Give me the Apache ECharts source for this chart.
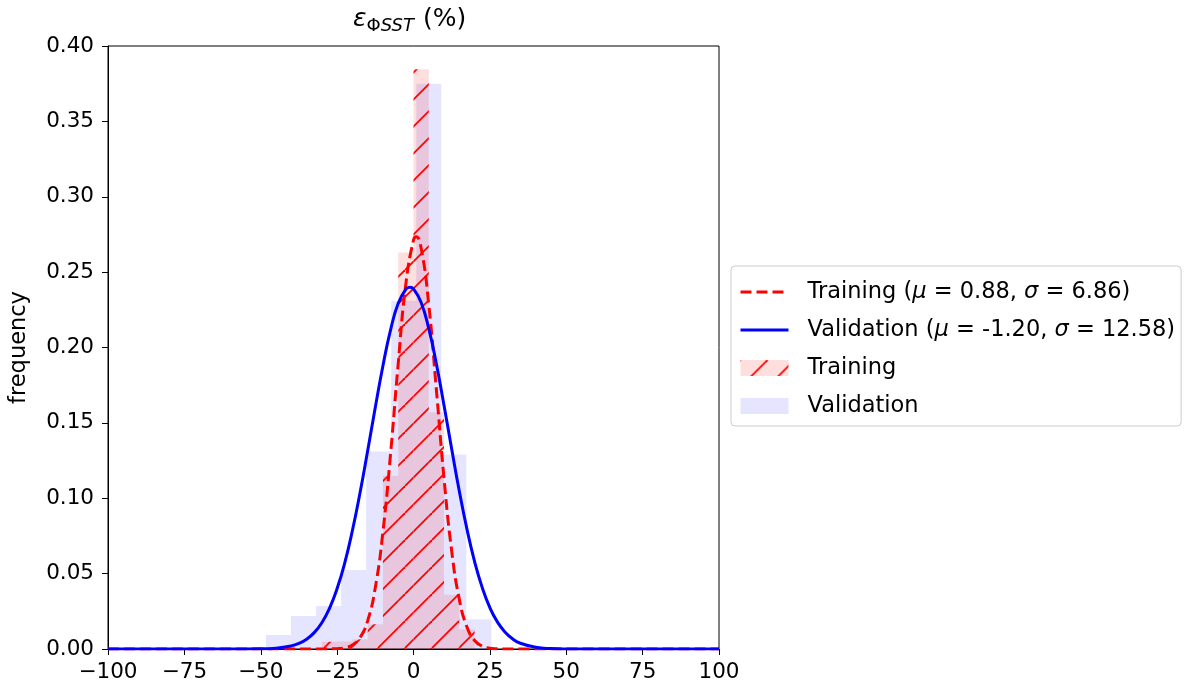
<!DOCTYPE html>
<html><head><meta charset="utf-8">
<script src="https://cdn.jsdelivr.net/npm/echarts@6/dist/echarts.min.js"></script>
<style>html,body{margin:0;padding:0;background:#fff}#c{width:1188px;height:696px}</style>
</head><body><div id="c"></div>
<script>
// ---- data ----
const trainEdges = [-30, -25, -20, -15, -10, -5, 0, 5, 10, 15, 20];
const trainFreq  = [0.0048, 0.005, 0.0064, 0.0164, 0.115, 0.263, 0.3845, 0.157, 0.036, 0.013];
const valEdges   = [-48.3, -40.1, -31.9, -23.7, -15.5, -7.3, 0.9, 9.1, 17.3, 25.5];
const valFreq    = [0.0093, 0.0219, 0.0285, 0.0524, 0.131, 0.231, 0.375, 0.129, 0.0197];

const trainFitX = [-100, -50, -40, -35, -30, -25, -22.5, -20, -17.5, -15, -12.5, -10, -7.5, -5, -2.5, 0, 0.88, 2.5, 5, 7.5, 10, 12.5, 15, 17.5, 20, 22.5, 25, 30, 35, 40, 50, 100];
const trainFitY = [0, 0, 0, 0, 0.00001, 0.00022, 0.00082, 0.00266, 0.00756, 0.01877, 0.0408, 0.0778, 0.1297, 0.1894, 0.2422, 0.2713, 0.2735, 0.2660, 0.2284, 0.1717, 0.1130, 0.0651, 0.0329, 0.01453, 0.00563, 0.0019, 0.00057, 0.00003, 0, 0, 0, 0];

const valFitX = [-100, -70, -60, -50, -45, -40, -37.5, -35, -32.5, -30, -27.5, -25, -22.5, -20, -17.5, -15, -12.5, -10, -7.5, -5, -2.5, -1.2, 0, 2.5, 5, 7.5, 10, 12.5, 15, 17.5, 20, 22.5, 25, 27.5, 30, 32.5, 35, 40, 45, 50, 60, 70, 100];
const valFitY = [0, 0, 0.000004, 0.00013, 0.00056, 0.00206, 0.00373, 0.0065, 0.01087, 0.01745, 0.0270, 0.0401, 0.0572, 0.0786, 0.1037, 0.1315, 0.1603, 0.1879, 0.2117, 0.2293, 0.2387, 0.2400, 0.2389, 0.2299, 0.2125, 0.1890, 0.1615, 0.1327, 0.1047, 0.0795, 0.0580, 0.0407, 0.0274, 0.0178, 0.0111, 0.00664, 0.0038, 0.00113, 0.00028, 0.00006, 0, 0, 0];

const trainFitName = 'Training (μ = 0.88, σ = 6.86)';
const valFitName   = 'Validation (μ = -1.20, σ = 12.58)';
const trainHistName = 'Training';
const valHistName   = 'Validation';

const xMin = -100, xMax = 100, xStep = 25;
const yMin = 0, yMax = 0.4, yStep = 0.05;

// ---- build ----
function histData(edges, freq) {
  const out = [];
  for (let i = 0; i < freq.length; i++) out.push([edges[i], edges[i + 1], freq[i]]);
  return out;
}
function zip(xs, ys) { return xs.map((x, i) => [x, ys[i]]); }

// hatch pattern "/" (red lines on light red fill)
const T = 27;
const cv = document.createElement('canvas');
cv.width = T; cv.height = T;
const g = cv.getContext('2d');
g.fillStyle = 'rgba(255,0,0,0.13)';
g.fillRect(0, 0, T, T);
g.strokeStyle = '#ff0000';
g.lineWidth = 1.8;
for (const o of [-T, 0, T]) {
  g.beginPath(); g.moveTo(o, T); g.lineTo(o + T, 0); g.stroke();
}
const hatch = { image: cv, repeat: 'repeat' };
const valFill = 'rgba(0,0,255,0.1)';

function makeRender(fill) {
  return function (params, api) {
    const p0 = api.coord([api.value(0), api.value(2)]);
    const p1 = api.coord([api.value(1), 0]);
    return {
      type: 'rect',
      shape: { x: p0[0], y: p0[1], width: p1[0] - p0[0], height: p1[1] - p0[1] },
      style: { fill: fill, stroke: null }
    };
  };
}

const FONT = 'DejaVu Sans';
const TICK = 21.5, TXT = 22.5;
const chart = echarts.init(document.getElementById('c'), null, { renderer: 'canvas' });
chart.setOption({
  animation: false,
  backgroundColor: '#ffffff',
  title: {
    text: '{e|ε}{p|Φ}{s|SST} {n|(%)}',
    left: 353, top: 3, padding: 0,
    textStyle: {
      fontWeight: 'normal',
      rich: {
        e: { fontFamily: FONT, fontSize: 25, fontStyle: 'italic', fontWeight: 'normal', lineHeight: 32, color: '#000' },
        p: { fontFamily: FONT, fontSize: 18, fontWeight: 'normal', lineHeight: 16, verticalAlign: 'bottom', color: '#000' },
        s: { fontFamily: FONT, fontSize: 18, fontStyle: 'italic', fontWeight: 'normal', lineHeight: 16, verticalAlign: 'bottom', color: '#000' },
        n: { fontFamily: FONT, fontSize: 25, fontWeight: 'normal', lineHeight: 32, color: '#000', padding: [0, 0, 0, 4] }
      }
    }
  },
  grid: {
    left: 108, right: 469, top: 46, bottom: 47, containLabel: false, outerBoundsMode: 'none',
    show: true, borderColor: '#000', borderWidth: 1, backgroundColor: 'transparent'
  },
  legend: {
    orient: 'vertical', left: 731, top: 266,
    selectedMode: false,
    backgroundColor: '#fff', borderColor: '#cccccc', borderWidth: 1, borderRadius: 4,
    padding: [14, 6, 8, 8],
    itemWidth: 48, itemHeight: 16, itemGap: 14,
    data: [
      { name: trainFitName, itemStyle: { opacity: 0, color: 'transparent', borderWidth: 0 },
        lineStyle: { color: '#ff0000', width: 3, type: [11, 5] } },
      { name: valFitName, itemStyle: { opacity: 0, color: 'transparent', borderWidth: 0 },
        lineStyle: { color: '#0000ff', width: 3, type: 'solid' } },
      { name: trainHistName, icon: 'rect' },
      { name: valHistName, icon: 'rect' }
    ],
    formatter: function (n) { return n.replace(/μ/g, '{i|μ}').replace(/σ/g, '{i|σ}'); },
    textStyle: {
      fontFamily: FONT, fontSize: TXT, color: '#000', lineHeight: 24, padding: [0, 0, 0, 14],
      rich: { i: { fontFamily: FONT, fontSize: TXT, fontStyle: 'italic', color: '#000', lineHeight: 24 } }
    }
  },
  xAxis: {
    type: 'value', min: xMin, max: xMax, interval: xStep,
    axisLine: { show: true, onZero: false, lineStyle: { color: '#000', width: 1 } },
    axisTick: { show: true, inside: false, length: 6, lineStyle: { color: '#000', width: 1 } },
    splitLine: { show: false },
    axisLabel: { fontFamily: FONT, fontSize: TICK, color: '#000', margin: 12,
      formatter: function (v) { return v < 0 ? '\u2212' + (-v) : String(v); } }
  },
  yAxis: {
    type: 'value', min: yMin, max: yMax, interval: yStep,
    name: 'frequency', nameLocation: 'middle', nameGap: 77,
    nameTextStyle: { fontFamily: FONT, fontSize: TXT, color: '#000' },
    axisLine: { show: true, onZero: false, lineStyle: { color: '#000', width: 1 } },
    axisTick: { show: true, inside: false, length: 6, lineStyle: { color: '#000', width: 1 } },
    splitLine: { show: false },
    axisLabel: { fontFamily: FONT, fontSize: TICK, color: '#000', margin: 14,
      formatter: function (v) { return v.toFixed(2); } }
  },
  series: [
    {
      name: valHistName, type: 'custom', renderItem: makeRender(valFill),
      itemStyle: { color: valFill }, encode: { x: [0, 1], y: 2 },
      data: histData(valEdges, valFreq), z: 1
    },
    {
      name: trainHistName, type: 'custom', renderItem: makeRender(hatch),
      itemStyle: { color: hatch }, encode: { x: [0, 1], y: 2 },
      data: histData(trainEdges, trainFreq), z: 2
    },
    {
      name: trainFitName, type: 'line', data: zip(trainFitX, trainFitY),
      symbol: 'none', showSymbol: false, smooth: true, z: 3,
      itemStyle: { color: '#ff0000' },
      lineStyle: { color: '#ff0000', width: 3, type: [11, 5] }
    },
    {
      name: valFitName, type: 'line', data: zip(valFitX, valFitY),
      symbol: 'none', showSymbol: false, smooth: true, z: 4,
      itemStyle: { color: '#0000ff' },
      lineStyle: { color: '#0000ff', width: 3 }
    }
  ]
});
</script>
</body></html>
